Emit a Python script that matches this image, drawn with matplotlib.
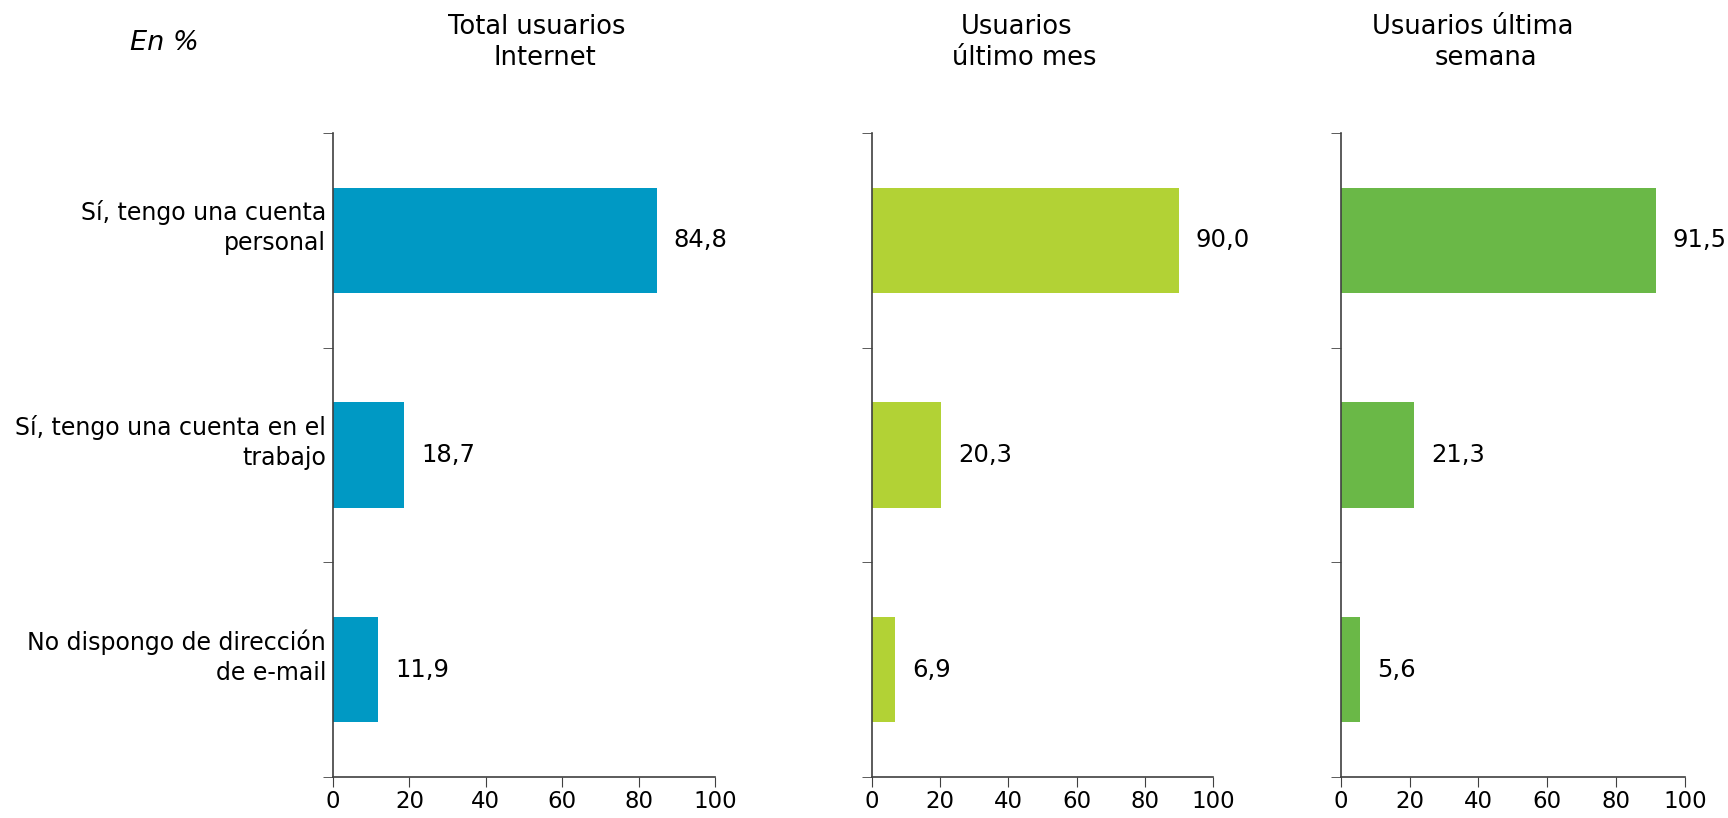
import matplotlib.pyplot as plt
import matplotlib.transforms as mtransforms
import numpy as np

categories = ['Sí, tengo una cuenta\npersonal',
              'Sí, tengo una cuenta en el\ntrabajo',
              'No dispongo de dirección\nde e-mail']
titles = [('Total usuarios', 'Internet'), ('Usuarios', 'último mes'), ('Usuarios última', 'semana')]
total_internet = [84.8, 18.7, 11.9]
ultimo_mes = [90.0, 20.3, 6.9]
ultima_semana = [91.5, 21.3, 5.6]
colors = ['#0099c4', '#b2d235', '#6ab847']
x_ticks = [0, 20, 40, 60, 80, 100]

fig = plt.figure(figsize=(17.28, 8.18), dpi=100)

# axes boxes in figure fractions (left, bottom, width, height)
boxes = [(0.1927, 0.0501, 0.2211, 0.7873),
         (0.5046, 0.0501, 0.1973, 0.7873),
         (0.7760, 0.0501, 0.1990, 0.7873)]
# x centres of the two title lines for each panel
title_x = [(0.3106, 0.3154), (0.588, 0.593), (0.852, 0.860)]

series = [total_internet, ultimo_mes, ultima_semana]
ypos = np.arange(len(categories))

for k, (vals, box) in enumerate(zip(series, boxes)):
    ax = fig.add_axes(box)
    ax.barh(ypos, vals, height=0.49, color=colors[k])
    ax.set_xlim(0, 100)
    ax.set_ylim(2.5, -0.5)
    for sp in ['top', 'right']:
        ax.spines[sp].set_visible(False)
    for sp in ['left', 'bottom']:
        ax.spines[sp].set_color('#404040')
        ax.spines[sp].set_linewidth(1.2)
    ax.set_xticks(x_ticks)
    ax.set_xticklabels([str(t) for t in x_ticks], fontsize=16.5)
    ax.tick_params(axis='x', length=7, color='#404040', pad=2)
    # boundary ticks on the y axis, labels at the centres
    ax.set_yticks(ypos)
    ax.set_yticks([-0.5, 0.5, 1.5, 2.5], minor=True)
    ax.tick_params(axis='y', which='major', length=0, pad=5)
    ax.tick_params(axis='y', which='minor', length=7, color='#404040')
    if k == 0:
        ax.set_yticklabels(categories, fontsize=17, ha='right', linespacing=1.3)
        # the labels sit a little above the bar centres
        shift = mtransforms.ScaledTranslation(0, 0.18, fig.dpi_scale_trans)
        for lab in ax.get_yticklabels():
            lab.set_transform(lab.get_transform() + shift)
    else:
        ax.set_yticklabels([])
    for y, v in zip(ypos, vals):
        ax.annotate(f'{v:.1f}'.replace('.', ','), (v, y), xytext=(12, 0),
                    textcoords='offset points', va='center', ha='left', fontsize=17.5)
    fig.text(title_x[k][0], 0.967, titles[k][0], ha='center', va='center', fontsize=18.5)
    fig.text(title_x[k][1], 0.929, titles[k][1], ha='center', va='center', fontsize=18.5)

fig.text(0.075, 0.947, 'En %', style='italic', fontsize=19.5, ha='left', va='center')

fig.savefig('out.png', dpi=100)
